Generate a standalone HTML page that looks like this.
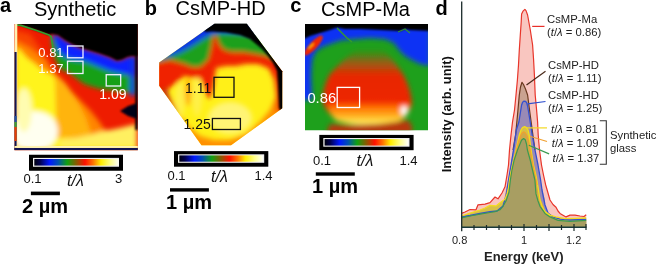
<!DOCTYPE html>
<html><head><meta charset="utf-8">
<style>
html,body{margin:0;padding:0;background:#fff;width:658px;height:265px;overflow:hidden;}
svg{display:block;font-family:"Liberation Sans",sans-serif;will-change:transform;}
.lb{font-weight:bold;font-size:20px;}
.tt{font-size:20px;}
.n13{font-size:13px;}
.tl{font-size:16px;font-style:italic;}
.sb{font-weight:bold;font-size:20px;}
.ch{font-size:11.3px;}
</style></head>
<body>
<svg width="658" height="265" viewBox="0 0 658 265">
<defs>
  <linearGradient id="cbar" x1="0" x2="1" y1="0" y2="0">
    <stop offset="0" stop-color="#000010"/>
    <stop offset="0.07" stop-color="#000050"/>
    <stop offset="0.18" stop-color="#0018ff"/>
    <stop offset="0.28" stop-color="#0050b0"/>
    <stop offset="0.39" stop-color="#10a010"/>
    <stop offset="0.5" stop-color="#8a5800"/>
    <stop offset="0.6" stop-color="#ff1000"/>
    <stop offset="0.7" stop-color="#ff7800"/>
    <stop offset="0.79" stop-color="#ffee00"/>
    <stop offset="0.9" stop-color="#ffff88"/>
    <stop offset="1" stop-color="#fffff8"/>
  </linearGradient>
  <filter id="bl2" x="-10%" y="-10%" width="120%" height="120%"><feGaussianBlur stdDeviation="2.5"/></filter>
  <filter id="bl1" x="-10%" y="-10%" width="120%" height="120%"><feGaussianBlur stdDeviation="1.2"/></filter>
  <clipPath id="clipA"><rect x="14.5" y="24" width="123.3" height="126.2"/></clipPath>
  <clipPath id="clipB"><polygon points="214.5,23.8 246.8,23.8 282.2,71.3 282.2,108.3 231,145.3 201.5,145.3 159.2,85.8 159.2,62.5"/></clipPath>
  <clipPath id="clipC"><rect x="305" y="24" width="123" height="106.3"/></clipPath>
</defs>

<!-- ============ PANEL A ============ -->
<text class="lb" x="0" y="11.5">a</text>
<text class="tt" x="34" y="15.6">Synthetic</text>
<g clip-path="url(#clipA)">
  <rect x="14" y="24" width="124" height="127" fill="#ee1c00"/>
  <g filter="url(#bl2)">
    <!-- red-orange tint top-left -->
    <polygon points="15,30 30,34 40,48 50,62 40,66 15,60" fill="#f84400"/>
    <!-- orange -->
    <polygon points="15,40 30,48 45,60 52,68 56,74 62,82 70,90 80,100 90,110 98,120 105,130 137,130 137,150 15,150" fill="#ff8400"/>
    <polygon points="50,72 58,76 66,84 73,94 80,106 86,118 90,130 93,140 55,140" fill="#ffb410"/>
    <!-- yellow -->
    <polygon points="15,47 20,50 27,58 34,63 40,68 48,73 53,76 55,82 55.5,100 56,120 57,138 137,139 137,150 15,150" fill="#fff41a"/>
    <!-- white -->
    <ellipse cx="34" cy="131" rx="24" ry="20" fill="#fffff0"/>
    <ellipse cx="24" cy="110" rx="8" ry="22" fill="#fffcb0"/>
    <!-- bottom yellow band right -->
    <polygon points="60,140 76,138 90,135 100,132 110,130 120,128 128,126 137,124 137,146 60,146" fill="#fff060"/>
  </g>
  <g filter="url(#bl2)">
    <!-- green band -->
    <polygon points="51,36 54,40 57,48 62,55 70,59 85,61 95,64 110,68 124,74 137,78 137,94 124,92 100,89 90,86 84,84 76,78 68,72 61.6,70 58,64 55.6,60 53,52" fill="#14a018"/>
    <!-- blue band -->
    <polygon points="52,34 58,35 65,40 72,44 80,47.5 90,50.5 100,53.5 110,57 117,60.5 122,59.5 127,57 131,56 134,56 137,56 137,77 130,75 124,74 110,71 100,67 90,63 85,61 70,59 62,55 57,48 54,40" fill="#0a20ff"/>
    <rect x="130" y="56" width="5" height="40" fill="#0a30e0"/>
  </g>
  <g filter="url(#bl1)">
    <!-- black -->
    <polygon points="15,20 15,24 20,25 36.6,30.5 49,35 52,34 58,35 65,40 72,44 80,47.5 90,50.5 100,53.5 110,57 117,60.5 122,59.5 127,57 131,56 140,56 140,20" fill="#000"/>
    <!-- notch -->
    <polygon points="120,111 128,106 137,103 137,119 128,116" fill="#000018"/>
    <!-- right strip -->
    <rect x="135.3" y="56" width="3" height="74" fill="#000008"/>
  </g>
  <!-- green edge line -->
  <polyline points="16,25 20.8,25.4 36.6,30.5 49,35 51,36.5 52.5,44.6 53,52" fill="none" stroke="#30a030" stroke-width="1.6"/>
  <!-- left edge -->
  <rect x="14.5" y="24" width="2.8" height="122" fill="#fff0b0"/>
  <rect x="14" y="52" width="2.6" height="98" fill="#141450"/>
  <rect x="14" y="116" width="2.6" height="6" fill="#2050a0"/>
  <rect x="14" y="122" width="2.6" height="5" fill="#40a030"/>
  <rect x="14" y="127" width="2.6" height="14" fill="#e84000"/>
  <rect x="14" y="147.9" width="124" height="2.5" fill="#141450"/>
  <rect x="14" y="146" width="124" height="1.9" fill="#fff4b0"/>
</g>
<g fill="none" stroke="#f0f0ff" stroke-width="1.3">
  <rect x="67.5" y="46" width="15.5" height="11.8"/>
  <rect x="67.5" y="61.2" width="15.5" height="12.3"/>
  <rect x="106.2" y="74.7" width="14.5" height="11.3"/>
</g>
<g class="n13" fill="#fff">
  <text x="38.3" y="57.4">0.81</text>
  <text x="38.3" y="72.5">1.37</text>
  <text x="99.3" y="99.4" font-size="14">1.09</text>
</g>
<!-- colorbar a -->
<rect x="29" y="154.75" width="94" height="16" fill="#000"/>
<rect x="33" y="157.9" width="86" height="8.85" fill="#eee"/>
<rect x="34.3" y="159" width="84.5" height="6.6" fill="url(#cbar)"/>
<g class="n13" fill="#111">
  <text x="23.5" y="183">0.1</text>
  <text x="115" y="183">3</text>
</g>
<text class="tl" x="67" y="185.5" fill="#111">t/λ</text>
<rect x="30.9" y="191.6" width="29" height="3.6" fill="#000"/>
<text class="sb" x="22" y="213" fill="#000">2 µm</text>

<!-- ============ PANEL B ============ -->
<text class="lb" x="144.7" y="14.5">b</text>
<text class="tt" x="175.6" y="15.3">CsMP-HD</text>
<g clip-path="url(#clipB)">
  <rect x="155" y="20" width="135" height="130" fill="#fff018"/>
  <g filter="url(#bl2)">
    <!-- orange outer ring bottom -->
    <polygon points="150,80 170,96 178,112 188,126 200,136 214,140 230,140 246,134 260,122 270,110 276,96 290,90 290,160 150,160" fill="#ff9000"/>
    <!-- inner light -->
    <ellipse cx="230" cy="118" rx="22" ry="16" fill="#fff474"/>
    <ellipse cx="180" cy="100" rx="5" ry="18" fill="#fff04a"/>
    <ellipse cx="197" cy="96" rx="5" ry="20" fill="#fff04a"/>
    <!-- orange columns -->
    <ellipse cx="188" cy="92" rx="3" ry="14" fill="#ffa800"/>
    <!-- left red band -->
    <polygon points="150,55 172,58 171,70 169,80 168,92 172,104 178,114 150,114" fill="#c83408"/>
    <!-- right red fringe -->
    <polygon points="266,62 285,66 285,112 276,112 276,96 274,80" fill="#f04000"/>
    <!-- red cap -->
    <polygon points="150,20 300,20 300,100 282,88 276,76 268,68 258,64 246,64 236,66 226,66 216,68 213,88 210,98 207,98 204,86 200,78 192,78 184,76 178,82 170,88 150,90" fill="#f02000"/>
    <!-- green band -->
    <polygon points="150,20 300,20 300,66 276,60 266,56 256,54 244,52 232,52 224,50 219,44 216,35 213,37 211,48 208,60 200,67 192,67 185,64 178,62 170,60 160,62 150,64" fill="#1ca01a"/>
    <!-- blue -->
    <polygon points="150,20 300,20 290,36 272,39 258,36 246,34 232,33 220,33 212,34 204,38.5 196,43.5 188,48.5 180,52.5 172,55.5 160,59 150,62" fill="#1030e8"/>
  </g>
  <g filter="url(#bl1)">
    <!-- black -->
    <polygon points="200,20 300,20 300,120 285,120 279,108 278,85 277,71 273,63 268,56 262,49 256,44 250,39 240,35 226,32.5 212,31.5 205,32" fill="#000"/>
  </g>
</g>
<g fill="none" stroke="#111" stroke-width="1.3">
  <rect x="214" y="77.3" width="20" height="20"/>
  <rect x="212.4" y="118.5" width="28" height="11"/>
</g>
<g font-size="14" fill="#111">
  <text x="185" y="92.6">1.11</text>
  <text x="183.5" y="128.8">1.25</text>
</g>
<!-- colorbar b -->
<rect x="174" y="151.1" width="94.3" height="15.6" fill="#000"/>
<rect x="178" y="154.3" width="86.2" height="8.5" fill="#eee"/>
<rect x="179.3" y="155.4" width="83.6" height="6.3" fill="url(#cbar)"/>
<g class="n13" fill="#111">
  <text x="167.5" y="180.1">0.1</text>
  <text x="254.5" y="180.1">1.4</text>
</g>
<text class="tl" x="211" y="181.8" fill="#111">t/λ</text>
<rect x="170" y="188.2" width="38.9" height="3.4" fill="#000"/>
<text class="sb" x="166" y="209.3" fill="#000">1 µm</text>

<!-- ============ PANEL C ============ -->
<text class="lb" x="290.3" y="11.7">c</text>
<text class="tt" x="321.1" y="15.9">CsMP-Ma</text>
<g clip-path="url(#clipC)">
  <rect x="305" y="24" width="124" height="107" fill="#1ea01c"/>
  <defs>
  <linearGradient id="cbowl" x1="0" x2="0" y1="0" y2="1">
    <stop offset="0" stop-color="#a05010" stop-opacity="0"/>
    <stop offset="0.18" stop-color="#c04810" stop-opacity="0.75"/>
    <stop offset="0.35" stop-color="#e82800"/>
    <stop offset="1" stop-color="#f02000"/>
  </linearGradient>
  <linearGradient id="cyel" x1="0" x2="0" y1="0" y2="1">
    <stop offset="0" stop-color="#ff4000" stop-opacity="0"/>
    <stop offset="0.3" stop-color="#ff7000"/>
    <stop offset="0.65" stop-color="#ffb020"/>
    <stop offset="0.9" stop-color="#ffe850"/>
    <stop offset="1" stop-color="#fff8a0"/>
  </linearGradient></defs>
  <g filter="url(#bl2)">
    <!-- blue -->
    <polygon points="300,20 430,20 430,66 420,64 412,60 405,56 399,50 394,43 385,39 370,38 355,39 342,40 330,44 322,47 316,51 312,60 311,75 312,100 300,100" fill="#1030f4"/>
  </g>
  <g filter="url(#bl1)">
    <!-- black -->
    <polygon points="300,20 430,20 430,31 410,30 405,29 400,31 380,30 360,29 345,29 337,27.5 330,30 320,33 310,36 305,38.5 300,40" fill="#000"/>
    <!-- red streak top left -->
    <ellipse cx="313.5" cy="45.5" rx="13" ry="3.8" transform="rotate(-47 313.5 45.5)" fill="#f02800"/>
    <ellipse cx="311" cy="46" rx="4" ry="1.2" transform="rotate(-45 311 46)" fill="#ffa000"/>
  </g>
  <polyline points="337,28 342,33 347,38 352,42" fill="none" stroke="#3aa020" stroke-width="1.5" opacity="0.9"/>
  <polyline points="398,32 405,29 410,33" fill="none" stroke="#3aa020" stroke-width="1.3" opacity="0.8"/>
  <g filter="url(#bl2)">
    <path d="M358,49 L382,49 Q396,62 404,76 Q411,90 412,104 Q408,118 396,121 Q380,124 368,124 Q352,124 340,121 Q326,114 323,102 Q322,88 330,74 Q342,60 358,49Z" fill="url(#cbowl)"/>
    <path d="M327,103 Q368,97 411,101 Q410,117 398,121.5 Q382,125 368,125 Q350,125 336,120.5 Q328,113 327,103Z" fill="url(#cyel)"/>
    <path d="M330,124 Q368,127 408,120 L412,126 L412,134 L326,134Z" fill="#b83810"/>
    <ellipse cx="404" cy="110.5" rx="3.5" ry="4.8" fill="#fff"/>
  </g>
</g>
<rect x="337.2" y="87.4" width="22.4" height="20.1" fill="none" stroke="#fff" stroke-width="1.3"/>
<text x="307.4" y="102.8" fill="#fff" font-size="14.8">0.86</text>
<!-- colorbar c -->
<rect x="319.3" y="134.9" width="94.3" height="15.3" fill="#000"/>
<rect x="323.3" y="138" width="86.2" height="8.7" fill="#eee"/>
<rect x="324.6" y="139.1" width="83.6" height="6.5" fill="url(#cbar)"/>
<g class="n13" fill="#111">
  <text x="313" y="164.7">0.1</text>
  <text x="399.5" y="164.7">1.4</text>
</g>
<text class="tl" x="356.5" y="166.4" fill="#111">t/λ</text>
<rect x="315.8" y="172.3" width="39" height="3.4" fill="#000"/>
<text class="sb" x="312" y="192.9" fill="#000">1 µm</text>

<!-- ============ PANEL D ============ -->
<text class="lb" x="435.4" y="15.3">d</text>
<text transform="translate(451.2,172.3) rotate(-90)" font-size="12.9" font-weight="bold" fill="#111">Intensity (arb. unit)</text>
<!-- curves -->
<path d="M461.5,213.4 L465,212 L470,209.5 L476,209.8 L478,204.8 L485,204.1 L490,202.7 L495,197 L498,198.8 L502,193 L505,186.8 L507,175 L508.5,165 L509.5,150 L511,135 L512.5,122 L514.5,110 L516,95 L517.4,80 L518.5,65 L519.3,50 L520.3,35 L521.2,22 L521.6,14 L523,11.2 L524.9,9.3 L526,10.6 L527.6,15 L530.3,30 L532.6,45 L533.6,60 L534.4,75 L535.2,95 L536.6,110 L537.6,122 L538.2,135 L539.5,150 L541.5,165 L543.5,175 L545.7,185 L548,193 L550,200 L553,204.5 L556,207.2 L558,211 L560,213.4 L566,216.9 L570,215.1 L575,215.1 L580,216 L584,216.5 L586.2,214.8 L586.2,227 L461.5,227 Z" fill="#f9c6c0"/>
<path d="M504,200 L507,185 L510,170 L513,150 L515.6,135 L517.5,115 L519.3,95 L520.5,87 L522,82.3 L523.5,84.5 L525.5,89 L527.6,95 L529.8,112 L532.9,135 L535,150 L538,170 L541,185 L545,200 L545,205 L504,205 Z" fill="#c9a290"/>
<path d="M461.5,217 L470,215.5 L480,213.5 L490,211.6 L497,211 L503,206 L506,196 L508.5,180 L511,165 L513.5,150 L516.3,130 L518.9,122 L520.8,110 L521.6,105 L522.6,102.2 L524,101.1 L525.6,101.4 L526.8,103 L527.6,106 L529.9,120 L532.2,135 L535,150 L538,165 L540.6,180 L542,190 L545,205 L548,213 L553,217 L560,219.2 L570,220 L586.2,219.5 L586.2,227 L461.5,227 Z" fill="#9a8ab6"/>
<path d="M461.5,216 L470,213 L480,210 L485,208 L490,205.4 L496,205.9 L500,202.7 L505,199.2 L507,194 L508.5,188 L509.5,180 L511,172 L513,163 L516,150 L519.3,135 L521,130 L522.5,127.6 L524.6,126.7 L526.5,127.6 L528,130 L529.2,135 L531.1,150 L533.5,165 L536.5,178 L538.5,190 L540,200 L542,206 L545,211.6 L550,215.1 L556,216.9 L565,218.7 L575,218.3 L586.2,217.8 L586.2,227 L461.5,227 Z" fill="#d6c048"/>
<path d="M505,201 L508,190 L510.5,178 L513,166 L516,152 L518.5,142 L520.5,136 L522,133 L523.6,131.9 L525.3,132.8 L527,135.5 L528.5,141 L530,149 L532,160 L534.5,173 L537,185 L540,198 L544,207 L544,210 L505,210 Z" fill="#cfa848"/>
<path d="M461.5,217.8 L470,216 L480,214.2 L490,212.5 L495,211.6 L500,209.8 L503,206.3 L506,201 L509,192 L510.4,180 L512,170 L514.2,160 L517.5,150 L520,144 L521.5,140.3 L523.6,138.5 L525.3,139.8 L526.5,144 L527.4,150 L530.2,160 L532.5,170 L534.9,180 L536,193.9 L538,201 L540,206.3 L545,213.4 L550,216.9 L558,220.4 L570,221.3 L586.2,220.4 L586.2,227 L461.5,227 Z" fill="#a89e62"/>
<path d="M461.5,213.4 L465,212 L470,209.5 L476,209.8 L478,204.8 L485,204.1 L490,202.7 L495,197 L498,198.8 L502,193 L505,186.8 L507,175 L508.5,165 L509.5,150 L511,135 L512.5,122 L514.5,110 L516,95 L517.4,80 L518.5,65 L519.3,50 L520.3,35 L521.2,22 L521.6,14 L523,11.2 L524.9,9.3 L526,10.6 L527.6,15 L530.3,30 L532.6,45 L533.6,60 L534.4,75 L535.2,95 L536.6,110 L537.6,122 L538.2,135 L539.5,150 L541.5,165 L543.5,175 L545.7,185 L548,193 L550,200 L553,204.5 L556,207.2 L558,211 L560,213.4 L566,216.9 L570,215.1 L575,215.1 L580,216 L584,216.5 L586.2,214.8" fill="none" stroke="#e8352a" stroke-width="1.2" stroke-linejoin="round"/>
<path d="M513,150 L515.6,135 L517.5,115 L519.3,95 L520.5,87 L522,82.3 L523.5,84.5 L525.5,89 L527.6,95 L529.8,112 L532.9,135 L535,150" fill="none" stroke="#6b3a1f" stroke-width="1.2" stroke-linejoin="round"/>
<path d="M461.5,217 L470,215.5 L480,213.5 L490,211.6 L497,211 L503,206 L506,196 L508.5,180 L511,165 L513.5,150 L516.3,130 L518.9,122 L520.8,110 L521.6,105 L522.6,102.2 L524,101.1 L525.6,101.4 L526.8,103 L527.6,106 L529.9,120 L532.2,135 L535,150 L538,165 L540.6,180 L542,190 L545,205 L548,213 L553,217 L560,219.2 L570,220 L586.2,219.5" fill="none" stroke="#3450d0" stroke-width="1.3" stroke-linejoin="round"/>
<path d="M461.5,216 L470,213 L480,210 L485,208 L490,205.4 L496,205.9 L500,202.7 L505,199.2 L507,194 L508.5,188 L509.5,180 L511,172 L513,163 L516,150 L519.3,135 L521,130 L522.5,127.6 L524.6,126.7 L526.5,127.6 L528,130 L529.2,135 L531.1,150 L533.5,165 L536.5,178 L538.5,190 L540,200 L542,206 L545,211.6 L550,215.1 L556,216.9 L565,218.7 L575,218.3 L586.2,217.8" fill="none" stroke="#f4dc1c" stroke-width="1.3" stroke-linejoin="round"/>
<path d="M510.5,178 L513,166 L516,152 L518.5,142 L520.5,136 L522,133 L523.6,131.9 L525.3,132.8 L527,135.5 L528.5,141 L530,149 L532,160 L534.5,173 L537,185" fill="none" stroke="#f0a030" stroke-width="1.2" stroke-linejoin="round"/>
<path d="M461.5,217.8 L470,216 L480,214.2 L490,212.5 L495,211.6 L500,209.8 L503,206.3 L506,201 L509,192 L510.4,180 L512,170 L514.2,160 L517.5,150 L520,144 L521.5,140.3 L523.6,138.5 L525.3,139.8 L526.5,144 L527.4,150 L530.2,160 L532.5,170 L534.9,180 L536,193.9 L538,201 L540,206.3 L545,213.4 L550,216.9 L558,220.4 L570,221.3 L586.2,220.4" fill="none" stroke="#3c9a50" stroke-width="1.2" stroke-linejoin="round"/>

<!-- axes -->
<line x1="461.7" y1="1.4" x2="461.7" y2="231.3" stroke="#1a2a2a" stroke-width="1.3"/>
<line x1="461" y1="227.3" x2="586.5" y2="227.3" stroke="#1a3a3a" stroke-width="1.6"/>
<g stroke="#1a2a2a" stroke-width="1.2">
  <line x1="474" y1="225" x2="474" y2="230"/><line x1="486.5" y1="225" x2="486.5" y2="230"/>
  <line x1="499" y1="225" x2="499" y2="230"/><line x1="511.5" y1="225" x2="511.5" y2="230"/>
  <line x1="524" y1="224" x2="524" y2="231"/><line x1="536.5" y1="225" x2="536.5" y2="230"/>
  <line x1="549" y1="224" x2="549" y2="231"/><line x1="561.5" y1="225" x2="561.5" y2="230"/>
  <line x1="574" y1="224" x2="574" y2="231"/><line x1="586" y1="224" x2="586" y2="230"/>
</g>
<g font-size="11" fill="#222">
  <text x="452" y="243.7">0.8</text>
  <text x="521" y="243.7">1</text>
  <text x="566" y="243.7">1.2</text>
</g>
<text x="484" y="261" font-size="13" font-weight="bold" fill="#222">Energy (keV)</text>
<!-- leader lines -->
<g fill="none" stroke-width="1.2">
  <line x1="532.2" y1="26.4" x2="544.5" y2="26.4" stroke="#e8302a"/>
  <line x1="526.5" y1="85" x2="545.5" y2="71.2" stroke="#4a2a1a"/>
  <line x1="527.6" y1="103.9" x2="545.5" y2="101.5" stroke="#2e4fd0"/>
  <line x1="526.5" y1="127.9" x2="547" y2="127.9" stroke="#f2d820"/>
  <line x1="529.9" y1="136.3" x2="547" y2="141.5" stroke="#f0a030"/>
  <line x1="528.8" y1="145.3" x2="549.1" y2="153.9" stroke="#3a9a50"/>
  <polyline points="599.8,120.7 606.3,120.7 606.3,164.2 599.8,164.2" stroke="#333" stroke-width="1.1"/>
</g>
<g class="ch" fill="#222">
  <text x="547" y="22.9">CsMP-Ma</text>
  <text x="547" y="36.1">(<tspan font-style="italic">t</tspan>/<tspan font-style="italic">λ</tspan> = 0.86)</text>
  <text x="548" y="68.5">CsMP-HD</text>
  <text x="548" y="81.5">(<tspan font-style="italic">t</tspan>/<tspan font-style="italic">λ</tspan> = 1.11)</text>
  <text x="548" y="98.8">CsMP-HD</text>
  <text x="548" y="111.8">(<tspan font-style="italic">t</tspan>/<tspan font-style="italic">λ</tspan> = 1.25)</text>
  <text x="551" y="132.5"><tspan font-style="italic">t</tspan>/<tspan font-style="italic">λ</tspan> = 0.81</text>
  <text x="551.8" y="147"><tspan font-style="italic">t</tspan>/<tspan font-style="italic">λ</tspan> = 1.09</text>
  <text x="552.5" y="161.5"><tspan font-style="italic">t</tspan>/<tspan font-style="italic">λ</tspan> = 1.37</text>
  <text x="610" y="138.5">Synthetic</text>
  <text x="610" y="152.3">glass</text>
</g>
</svg>
</body></html>
